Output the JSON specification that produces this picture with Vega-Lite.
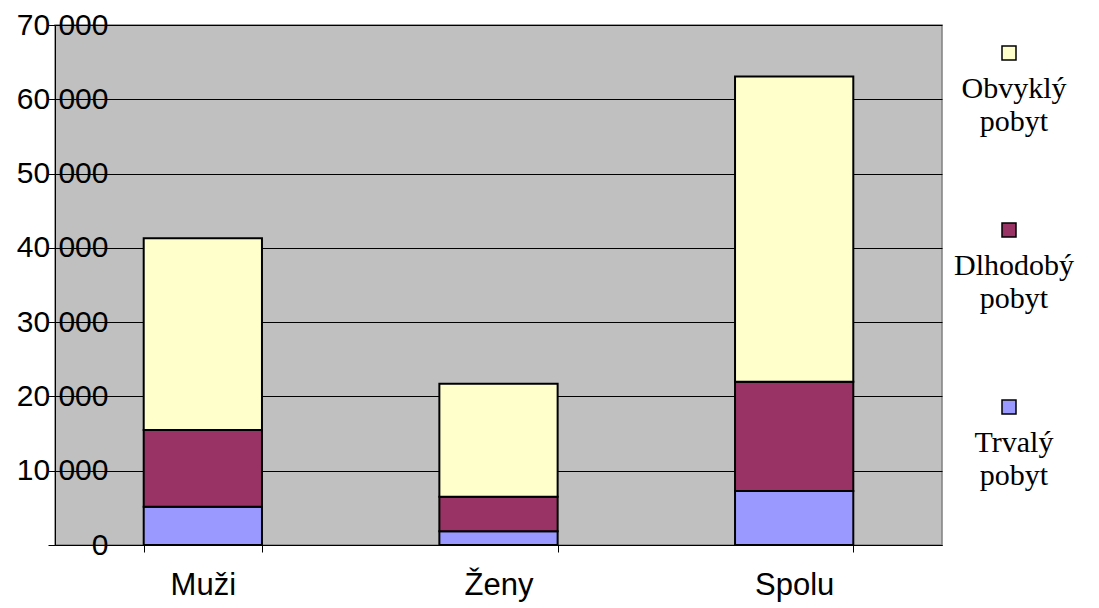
{
  "$schema": "https://vega.github.io/schema/vega-lite/v6.json",
  "width": 887,
  "height": 520,
  "autosize": {"type": "none"},
  "padding": {"left": 55, "top": 25, "right": 157, "bottom": 63},
  "background": "white",
  "config": {
    "view": {"fill": "#C0C0C0", "stroke": "#808080", "strokeWidth": 1.5}
  },
  "data": {
    "values": [
      {"pohlavie": "Muži", "typ": "Trvalý pobyt", "poradie": 1, "pocet": 5150},
      {"pohlavie": "Muži", "typ": "Dlhodobý pobyt", "poradie": 2, "pocet": 10330},
      {"pohlavie": "Muži", "typ": "Obvyklý pobyt", "poradie": 3, "pocet": 25820},
      {"pohlavie": "Ženy", "typ": "Trvalý pobyt", "poradie": 1, "pocet": 1840},
      {"pohlavie": "Ženy", "typ": "Dlhodobý pobyt", "poradie": 2, "pocet": 4660},
      {"pohlavie": "Ženy", "typ": "Obvyklý pobyt", "poradie": 3, "pocet": 15200},
      {"pohlavie": "Spolu", "typ": "Trvalý pobyt", "poradie": 1, "pocet": 7270},
      {"pohlavie": "Spolu", "typ": "Dlhodobý pobyt", "poradie": 2, "pocet": 14710},
      {"pohlavie": "Spolu", "typ": "Obvyklý pobyt", "poradie": 3, "pocet": 41100}
    ]
  },
  "mark": {"type": "bar", "stroke": "black", "strokeWidth": 2},
  "encoding": {
    "x": {
      "field": "pohlavie",
      "type": "nominal",
      "sort": ["Muži", "Ženy", "Spolu"],
      "scale": {"paddingInner": 0.6, "paddingOuter": 0.3},
      "axis": {
        "title": null,
        "labelAngle": 0,
        "labelFont": "Liberation Sans",
        "labelFontSize": 31,
        "labelColor": "black",
        "labelPadding": 18,
        "tickBand": "extent",
        "ticks": true,
        "tickColor": "black",
        "tickSize": 7,
        "domainColor": "black",
        "domainWidth": 1,
        "grid": false
      }
    },
    "y": {
      "field": "pocet",
      "type": "quantitative",
      "stack": "zero",
      "scale": {"domain": [0, 70000], "nice": false},
      "axis": {
        "title": null,
        "values": [0, 10000, 20000, 30000, 40000, 50000, 60000, 70000],
        "grid": true,
        "gridColor": "black",
        "gridWidth": 1,
        "gridOpacity": 1,
        "tickColor": "black",
        "tickSize": 7,
        "domainColor": "black",
        "domainWidth": 1,
        "labelFont": "Liberation Sans",
        "labelFontSize": 30,
        "labelColor": "black",
        "labelPadding": -60,
        "labelAlign": "right",
        "labelExpr": "datum.value == 0 ? '0\u00a0\u00a0' : replace(format(datum.value, ','), ',', ' ')"
      }
    },
    "color": {
      "field": "typ",
      "type": "nominal",
      "scale": {
        "domain": ["Obvyklý pobyt", "Dlhodobý pobyt", "Trvalý pobyt"],
        "range": ["#FFFFCC", "#993366", "#9999FF"]
      },
      "legend": {
        "title": null,
        "orient": "none",
        "legendX": 939,
        "legendY": 13,
        "padding": 0,
        "symbolType": "square",
        "symbolSize": 196,
        "symbolStrokeColor": "black",
        "symbolStrokeWidth": 1.5,
        "symbolOpacity": 1,
        "labelFont": "Liberation Serif",
        "labelFontSize": 30,
        "labelColor": "black",
        "labelAlign": "center",
        "labelBaseline": "top",
        "labelOffset": -10,
        "labelLimit": 0,
        "labelExpr": "split(datum.label, ' ')",
        "rowPadding": 78,
        "encode": {
          "labels": {"update": {"dy": {"value": 21}, "lineHeight": {"value": 33}}}
        }
      }
    },
    "order": {"field": "poradie"}
  }
}
